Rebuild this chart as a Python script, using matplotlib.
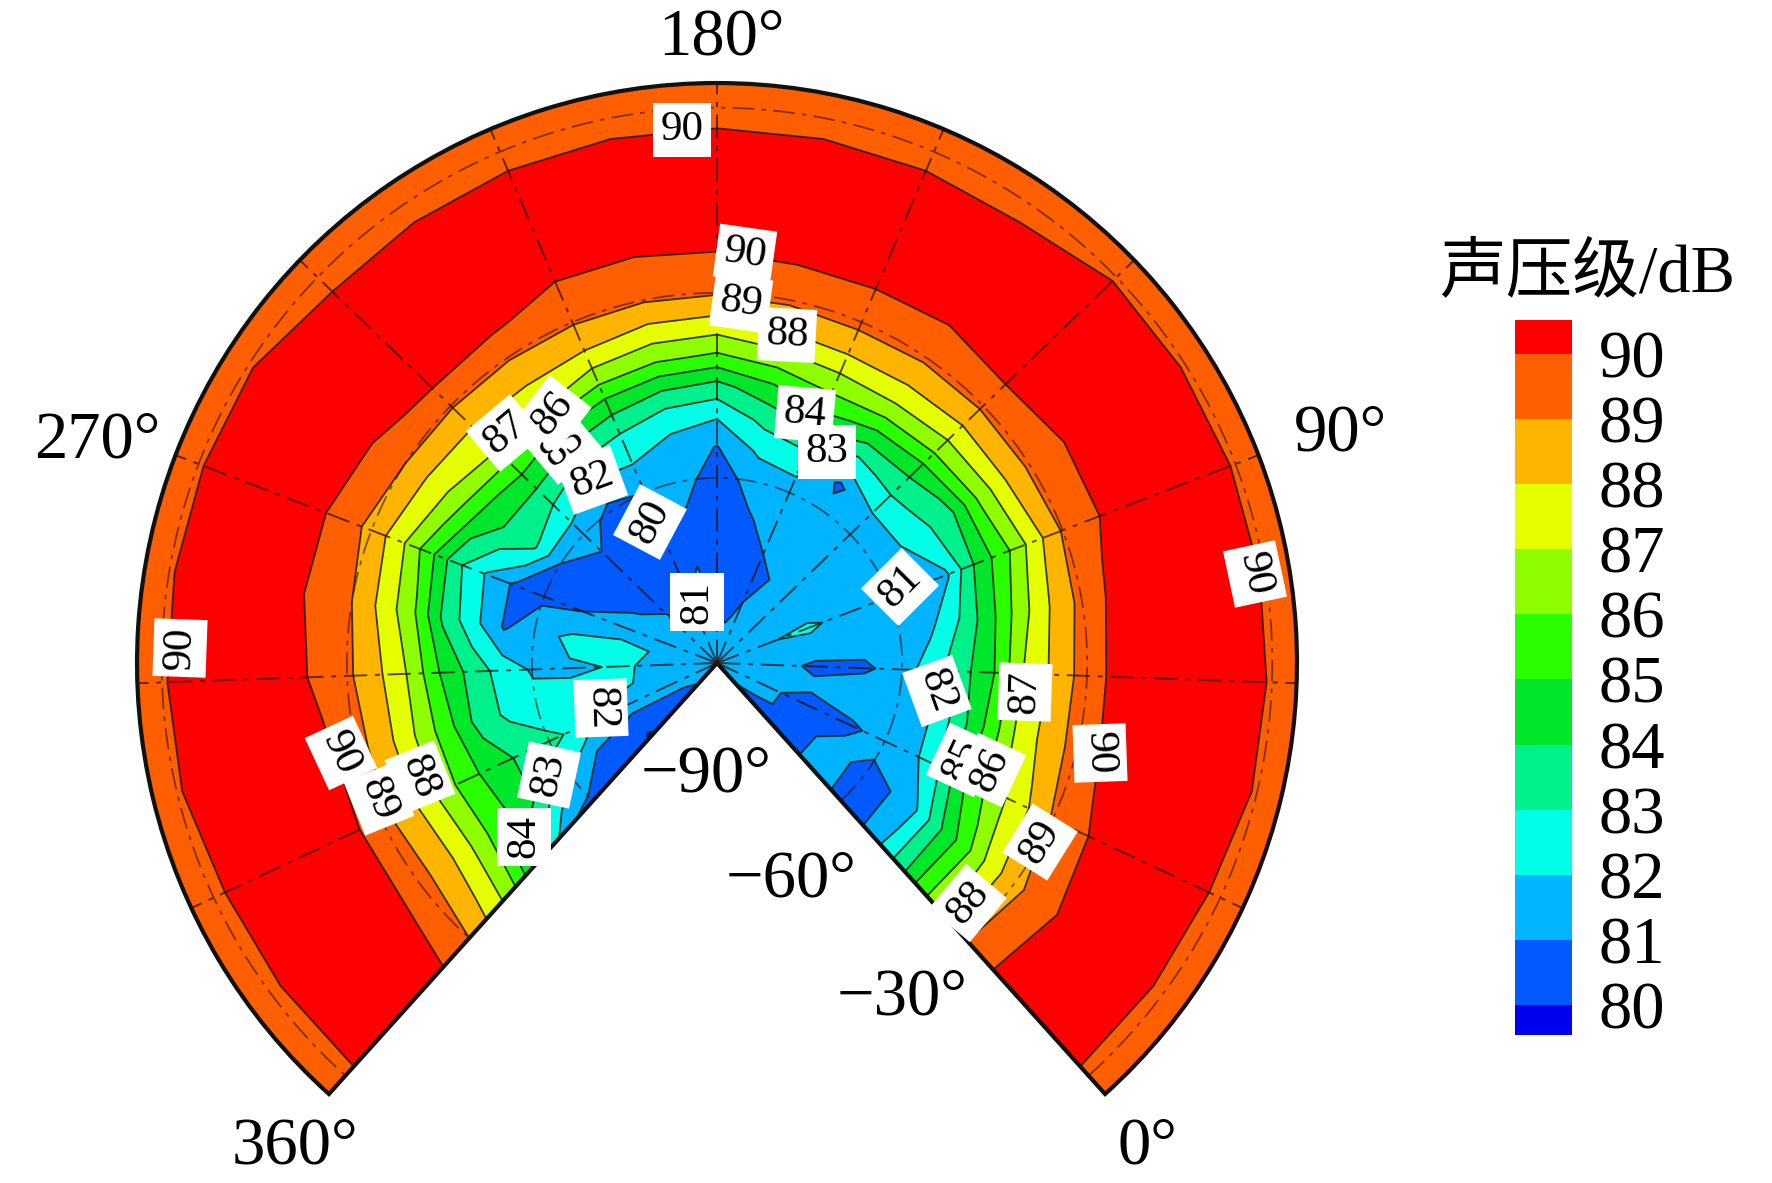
import numpy as np
import matplotlib
matplotlib.use('Agg')
import matplotlib.pyplot as plt
from matplotlib.patches import Wedge

plt.rcParams['font.family'] = ['Liberation Serif', 'Noto Sans CJK SC']
plt.rcParams['axes.unicode_minus'] = True

W, H = 1772, 1183

# azimuth of each column, every 15 deg
azimuth = np.arange(0, 361, 15)
# elevation of each row
elevation = np.array([-90, -82, -74, -66, -60, -55, -50, -45, -40, -35, -30, -25, -20, -14, -6, 0, 4])

# sound pressure level, one list per azimuth
spl_by_azimuth = [
    [81.5, 80.6, 80.7, 81.3, 80.8, 80.9, 82.1, 83.8, 85.8, 87.0, 88.9, 89.7, 90.5, 90.9, 90.3, 89.85, 89.4],
    [81.5, 81.2, 80.7, 81.3, 80.7, 81.0, 81.9, 83.9, 85.6, 87.4, 88.7, 89.5, 90.2, 90.9, 90.3, 89.85, 89.4],
    [81.5, 81.3, 80.6, 80.8, 81.4, 81.7, 83.1, 85.2, 86.6, 87.8, 89.1, 89.8, 90.5, 90.9, 90.3, 89.85, 89.4],
    [81.5, 81.5, 81.2, 81.9, 81.5, 81.8, 83.4, 85.2, 87.2, 88.4, 89.4, 90.2, 90.7, 90.9, 90.3, 89.95, 89.4],
    [81.5, 81.5, 80.8, 80.8, 81.5, 82.6, 83.7, 85.0, 87.1, 88.3, 89.5, 90.3, 90.8, 90.9, 90.3, 89.95, 89.4],
    [81.5, 81.6, 81.5, 81.5, 81.5, 81.8, 83.1, 84.7, 86.6, 88.1, 89.3, 90.2, 90.7, 90.9, 90.3, 89.95, 89.4],
    [81.5, 81.9, 82.2, 81.5, 81.2, 80.9, 81.9, 84.2, 85.7, 87.5, 89.1, 89.8, 90.5, 90.9, 90.3, 89.95, 89.4],
    [81.5, 81.5, 81.4, 81.4, 81.4, 81.95, 82.8, 83.8, 86.1, 87.9, 89.2, 89.8, 90.4, 90.9, 90.3, 89.95, 89.4],
    [81.5, 81.5, 81.4, 81.4, 81.4, 82.0, 83.2, 84.4, 86.4, 87.9, 89.2, 90.0, 90.7, 90.9, 90.3, 89.95, 89.4],
    [81.5, 81.3, 81.05, 81.4, 81.4, 80.8, 82.8, 84.7, 86.7, 88.1, 89.2, 89.8, 90.5, 90.9, 90.2, 89.75, 89.4],
    [81.5, 81.1, 80.8, 81.3, 81.5, 82.4, 83.7, 85.3, 86.7, 88.2, 89.3, 89.9, 90.5, 90.9, 90.2, 89.75, 89.4],
    [81.5, 80.9, 80.8, 80.9, 81.3, 82.2, 83.3, 84.6, 86.4, 88.0, 89.2, 89.9, 90.5, 90.9, 90.2, 89.75, 89.4],
    [81.5, 81.0, 80.6, 80.5, 80.6, 80.95, 82.1, 83.7, 85.9, 87.6, 89.1, 89.8, 90.4, 90.9, 90.2, 89.75, 89.4],
    [81.5, 81.3, 81.0, 80.9, 81.3, 81.6, 82.3, 84.0, 86.1, 87.7, 89.1, 89.7, 90.4, 90.9, 90.2, 89.75, 89.4],
    [81.5, 81.4, 80.5, 79.9, 81.0, 82.0, 82.9, 84.4, 86.4, 88.0, 89.1, 89.7, 90.4, 90.9, 90.2, 89.75, 89.4],
    [81.5, 80.9, 80.6, 80.4, 80.7, 81.8, 83.2, 84.8, 87.0, 88.1, 89.1, 90.1, 90.8, 90.9, 90.2, 89.75, 89.4],
    [81.5, 81.3, 80.6, 80.8, 81.4, 82.5, 83.8, 85.3, 87.1, 88.0, 89.1, 90.2, 90.9, 90.9, 90.2, 89.75, 89.4],
    [81.5, 81.5, 80.9, 80.8, 81.0, 83.1, 83.8, 84.8, 86.6, 87.8, 89.0, 89.8, 90.6, 90.9, 90.3, 89.95, 89.4],
    [81.5, 81.5, 81.5, 80.95, 80.8, 80.8, 81.9, 83.2, 85.4, 87.3, 88.7, 89.6, 90.3, 90.9, 90.3, 89.95, 89.4],
    [81.5, 81.8, 82.3, 82.2, 81.6, 80.9, 82.3, 83.8, 86.2, 87.7, 89.0, 89.6, 90.3, 90.9, 90.3, 89.95, 89.4],
    [81.5, 81.9, 82.05, 81.9, 81.9, 82.6, 83.7, 85.0, 86.9, 88.2, 89.2, 89.8, 90.5, 90.9, 90.3, 89.95, 89.4],
    [81.5, 81.7, 82.1, 82.2, 82.3, 82.8, 83.7, 85.4, 86.9, 88.3, 89.4, 90.2, 90.8, 90.9, 90.3, 89.95, 89.4],
    [81.5, 81.6, 81.7, 82.6, 83.3, 83.8, 84.5, 85.5, 86.9, 88.3, 89.3, 90.2, 90.8, 90.9, 90.3, 89.85, 89.4],
    [81.5, 80.9, 80.3, 80.95, 82.2, 83.6, 84.7, 85.6, 87.1, 88.5, 89.4, 90.2, 90.8, 90.9, 90.3, 89.85, 89.4],
    [81.5, 80.6, 79.9, 80.7, 80.7, 81.05, 82.5, 84.4, 86.5, 87.8, 89.0, 89.8, 90.6, 90.9, 90.3, 89.85, 89.4],
]

levels = [80, 81, 82, 83, 84, 85, 86, 87, 88, 89, 90]
band_colors = ['#0000ee', '#005aff', '#00b4ff', '#00ffe6', '#00f08c', '#00e62a',
               '#2aff00', '#8fff00', '#e6ff00', '#ffb400', '#ff5f00', '#ff0000']

spl = np.array(spl_by_azimuth).T

# picture geometry
center_x, center_y = 717, 663
px_per_deg = 6.17
start_angle = -48.0
deg_per_azimuth = 276.0 / 360.0


def screen_angle(az):
    return np.radians(start_angle + np.asarray(az) * deg_per_azimuth)


fig = plt.figure(figsize=(W / 100, H / 100), dpi=100)
ax = fig.add_axes([0, 0, 1, 1])
ax.set_xlim(-center_x / px_per_deg, (W - center_x) / px_per_deg)
ax.set_ylim(-(H - center_y) / px_per_deg, center_y / px_per_deg)
ax.axis('off')

# x, y of the grid: elevation -90 sits in the middle
rr, aa = np.meshgrid(elevation + 90, screen_angle(azimuth))
xx = (rr * np.cos(aa)).T
yy = (rr * np.sin(aa)).T

ax.add_patch(Wedge((0, 0), 94, start_angle, start_angle + 276, facecolor=band_colors[-2], edgecolor='none'))
fill_levels = [79] + levels + [92]
ax.contourf(xx, yy, spl, levels=fill_levels, colors=band_colors, antialiased=True)
ax.contour(xx, yy, spl, levels=levels, colors='#14200f', linewidths=1.3, alpha=0.85)

# dash-dot grid
dashdot = (0, (12, 4, 2.5, 4))
for az in azimuth[2:-1:2]:
    t = screen_angle(az)
    ax.plot([0, 94 * np.cos(t)], [0, 94 * np.sin(t)], color='#301008', lw=1.4, ls=dashdot, alpha=0.75)
ring_t = np.linspace(screen_angle(0), screen_angle(360), 300)
for ring in [30, 60, 90]:
    ax.plot(ring * np.cos(ring_t), ring * np.sin(ring_t), color='#301008', lw=1.3, ls=dashdot, alpha=0.6)

ax.add_patch(Wedge((0, 0), 94, start_angle, start_angle + 276, facecolor='none', edgecolor='#111111', lw=3))


def label_px(x, y, s, size=48, **kw):
    return fig.text(x / W, 1 - y / H, s, fontsize=size, ha='center', va='center', color='black', **kw)


# axis labels
for x, y, s in [(721, 38, '180°'), (97, 441, '270°'), (1340, 434, '90°'), (295, 1147, '360°'),
                (1147, 1147, '0°'), (706, 775, '−90°'), (791, 880, '−60°'), (902, 998, '−30°')]:
    label_px(x, y, s)

# contour labels: x, y, text, rotation
contour_labels = [
    (682, 130, '90', 0), (745, 254, '90', -8), (741, 303, '89', -8), (787, 335, '88', -3),
    (805, 414, '84', -5), (827, 452, '83', 0), (900, 587, '81', 45), (937, 691, '82', -70),
    (1025, 692, '87', 88), (1100, 753, '90', -88), (1255, 574, '90', -78), (1040, 842, '89', 58),
    (968, 903, '88', 50), (962, 760, '85', 65), (990, 770, '86', 65),
    (180, 648, '90', 88), (341, 753, '90', -65), (379, 799, '89', -68), (420, 777, '88', -68),
    (524, 837, '84', 90), (549, 775, '83', 78), (601, 708, '82', -88),
    (563, 446, '83', 40), (553, 414, '86', 52), (505, 433, '87', 40), (592, 480, '82', 20),
    (650, 522, '80', 62), (697, 602, '81', 90),
]
for x, y, s, rot in contour_labels:
    label_px(x, y, s, size=31, rotation=rot, rotation_mode='anchor',
             bbox=dict(boxstyle='square,pad=0.17', facecolor='white', edgecolor='none'))

# colour key
key_left, key_right = 1515, 1572
key_top, key_bottom = 320, 1035
cax = fig.add_axes([key_left / W, 1 - key_bottom / H, (key_right - key_left) / W, (key_bottom - key_top) / H])
low, high = 79.54, 90.52
edges = [low] + levels + [high]
for i, color in enumerate(band_colors):
    cax.bar(0, edges[i + 1] - edges[i], bottom=edges[i], width=1, color=color)
cax.set_xlim(-0.5, 0.5)
cax.set_ylim(low, high)
cax.set_xticks([])
cax.yaxis.tick_right()
cax.set_yticks(levels)
cax.tick_params(axis='y', length=0, labelsize=48, pad=19)
for side in cax.spines.values():
    side.set_visible(False)

label_px(1587, 274, '声压级/dB')

fig.savefig('out.png', dpi=100)
